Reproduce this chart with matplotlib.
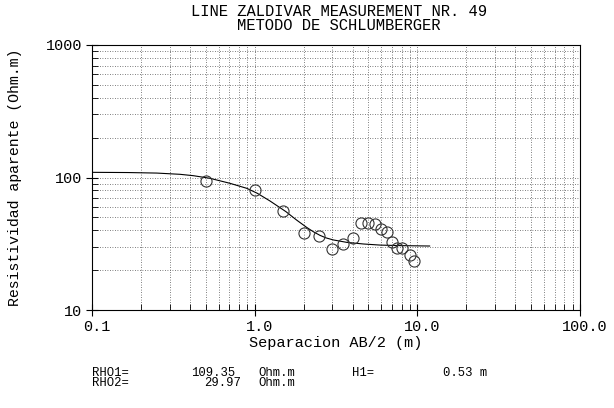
import matplotlib
matplotlib.use("Agg")
import matplotlib.pyplot as plt
import matplotlib.transforms as mtransforms
from matplotlib.ticker import LogLocator, FixedLocator, NullFormatter

# measured data
ab2 = [0.5, 1.0, 1.5, 2.0, 2.5, 3.0, 3.5, 4.0, 4.5, 5.0, 5.5, 6.0, 6.5, 7.0, 7.5, 8.0, 9.0, 9.6]
rho = [94.6, 80.9, 56.0, 37.9, 36.2, 28.7, 31.5, 35.1, 45.6, 45.0, 44.7, 40.6, 39.0, 32.8, 29.2, 29.2, 26.0, 23.6]

# model curve
curve_x = [0.1, 0.166, 0.25, 0.3475, 0.42, 0.531, 0.705, 0.893, 1.038, 1.242, 1.558,
           1.812, 2.089, 2.3, 2.52, 2.75, 3.04, 3.68, 4.65, 5.9, 8.0, 11.9]
curve_y = [109.4, 109.0, 108.0, 105.7, 103.2, 98.6, 90.4, 82.9, 76.0, 66.5, 55.2,
           47.7, 42.0, 38.9, 36.6, 35.0, 33.8, 32.4, 31.5, 30.9, 30.6, 30.4]

xticks = [0.1, 1.0, 10.0, 100.0]
xtick_labels = ["0.1", "1.0", "10.0", "100.0"]
yticks = [10, 100, 1000]
ytick_labels = ["10", "100", "1000"]

FONT = "Liberation Mono"
plt.rcParams["font.family"] = [FONT, "DejaVu Sans Mono"]

fig = plt.figure(figsize=(6.14, 4.08), dpi=100)
ax = fig.add_axes([92/614, 1-310/408, (580-92)/614, (310-45)/408])
ax.set_xscale("log")
ax.set_yscale("log")
ax.set_xlim(0.1, 100)
ax.set_ylim(10, 1000)

ax.plot(curve_x, curve_y, color="black", lw=0.8)
ax.plot(ab2, rho, linestyle="none", marker="o", ms=8, mfc="none", mec="#333333", mew=0.8)

ax.xaxis.set_major_locator(FixedLocator(xticks))
ax.set_xticklabels(xtick_labels)
ax.yaxis.set_major_locator(FixedLocator(yticks))
ax.set_yticklabels(ytick_labels)
ax.xaxis.set_minor_locator(LogLocator(base=10, subs=range(2, 10), numticks=20))
ax.yaxis.set_minor_locator(LogLocator(base=10, subs=range(2, 10), numticks=20))
ax.xaxis.set_minor_formatter(NullFormatter())
ax.yaxis.set_minor_formatter(NullFormatter())

ax.grid(True, which="both", linestyle=(0, (1, 2)), color="#555555", lw=0.6)
ax.tick_params(which="major", direction="inout", length=8, width=0.8, labelsize=11, pad=3)
ax.tick_params(which="minor", direction="in", length=4, width=0.6)
for s in ax.spines.values():
    s.set_linewidth(0.8)

offset = mtransforms.ScaledTranslation(5/100, 0, fig.dpi_scale_trans)
for lbl in ax.get_xticklabels():
    lbl.set_transform(lbl.get_transform() + offset)

ax.set_xlabel("Separacion AB/2 (m)", fontsize=11, labelpad=2)
ax.set_ylabel("Resistividad aparente (Ohm.m)", fontsize=10.7, labelpad=17)

fig.text(339/614, 1-12/408, "LINE ZALDIVAR MEASUREMENT NR. 49", ha="center", va="center", fontsize=11.2)
fig.text(339/614, 1-26/408, "METODO DE SCHLUMBERGER", ha="center", va="center", fontsize=11.2)

fs = 8.8
y1 = 1-372.5/408
y2 = 1-383/408
fig.text(92/614, y1, "RHO1=", ha="left", va="center", fontsize=fs)
fig.text(191/614, y1, "109.35", ha="left", va="center", fontsize=fs)
fig.text(258/614, y1, "Ohm.m", ha="left", va="center", fontsize=fs)
fig.text(352/614, y1, "H1=", ha="left", va="center", fontsize=fs)
fig.text(443/614, y1, "0.53 m", ha="left", va="center", fontsize=fs)
fig.text(92/614, y2, "RHO2=", ha="left", va="center", fontsize=fs)
fig.text(241/614, y2, "29.97", ha="right", va="center", fontsize=fs)
fig.text(258/614, y2, "Ohm.m", ha="left", va="center", fontsize=fs)

fig.savefig("out.png", dpi=100)
